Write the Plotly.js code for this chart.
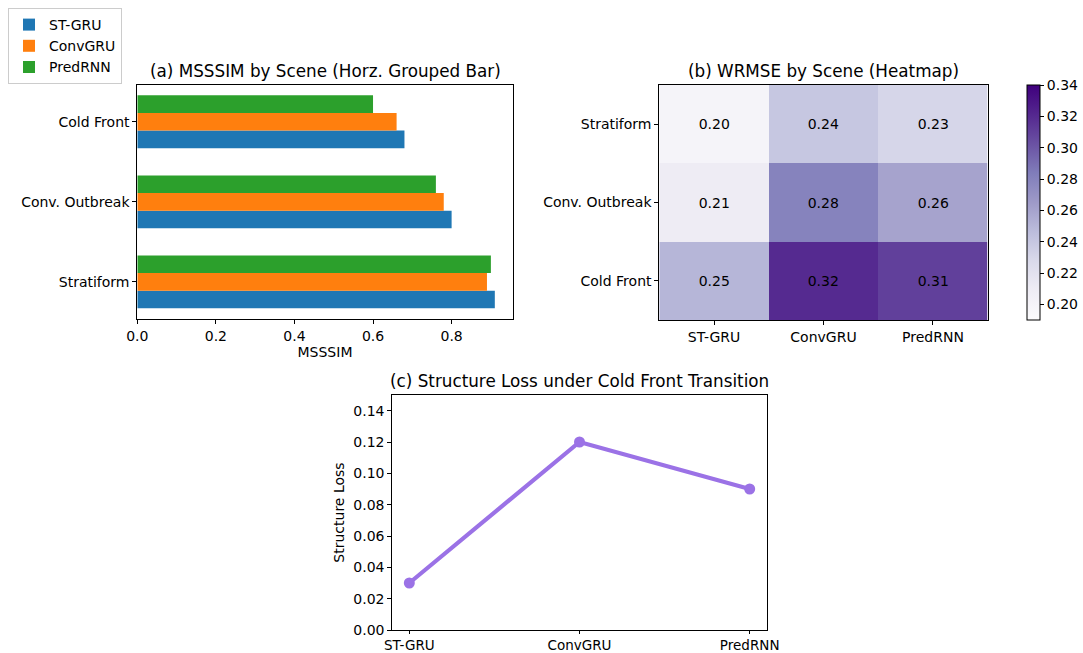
<!DOCTYPE html>
<html>
<head>
<meta charset="utf-8">
<script src="https://cdn.plot.ly/plotly-3.0.1.min.js"></script>
<style>html,body{margin:0;padding:0;background:#fff;}#chart{width:1083px;height:653px;}</style>
</head>
<body>
<div id="chart"></div>
<script>
// ---- data ----
const scenes = ['Stratiform', 'Conv. Outbreak', 'Cold Front'];
const models = ['ST-GRU', 'ConvGRU', 'PredRNN'];
const modelColors = ['#1f77b4', '#ff7f0e', '#2ca02c'];
// MSSSIM per model, ordered like scenes
const msssimSTGRU = [0.91, 0.80, 0.68];
const msssimConvGRU = [0.89, 0.78, 0.66];
const msssimPredRNN = [0.90, 0.76, 0.60];
// WRMSE rows (scenes) x columns (models)
const wrmseStratiform = [0.20, 0.24, 0.23];
const wrmseConvOutbreak = [0.21, 0.28, 0.26];
const wrmseColdFront = [0.25, 0.32, 0.31];
// Structure loss under cold front
const structureLoss = [0.03, 0.12, 0.09];
const cbTicks = [0.20, 0.22, 0.24, 0.26, 0.28, 0.30, 0.32, 0.34];
const lossTicks = [0.00, 0.02, 0.04, 0.06, 0.08, 0.10, 0.12, 0.14];
const msTicks = [0.0, 0.2, 0.4, 0.6, 0.8];

const W = 1083, H = 653;
const px = v => v / W;
const py = v => 1 - v / H;

const font = 'DejaVu Sans, sans-serif';
const purples = [
  [0.0, '#fcfbfd'], [0.125, '#efedf5'], [0.25, '#dadaeb'], [0.375, '#bcbddc'],
  [0.5, '#9e9ac8'], [0.625, '#807dba'], [0.75, '#6a51a3'], [0.875, '#54278f'], [1.0, '#3f007d']
];
const tickSize = 14;

const msData = [msssimSTGRU, msssimConvGRU, msssimPredRNN];
const traces = models.map((m, i) => ({
  type: 'bar', orientation: 'h', name: m,
  x: msData[i], y: scenes,
  marker: {color: modelColors[i], line: {width: 0}},
  xaxis: 'x', yaxis: 'y', hoverinfo: 'x'
}));

traces.push({
  type: 'heatmap', x: models, y: scenes,
  z: [wrmseStratiform, wrmseConvOutbreak, wrmseColdFront],
  zmin: 0.19, zmax: 0.34, colorscale: purples,
  texttemplate: '%{z:.2f}', textfont: {family: font, size: tickSize, color: '#000'},
  xaxis: 'x2', yaxis: 'y2', showlegend: false,
  colorbar: {
    x: px(1026.7), xanchor: 'left', xpad: 0, ypad: 0,
    y: py(202.5), yanchor: 'middle', len: 235, lenmode: 'pixels',
    thickness: 12.6, thicknessmode: 'pixels',
    outlinecolor: '#000', outlinewidth: 1,
    tickvals: cbTicks, ticktext: cbTicks.map(v => v.toFixed(2)),
    ticks: 'outside', ticklen: 4, tickcolor: '#000',
    tickfont: {family: font, size: tickSize, color: '#000'}
  }
});

traces.push({
  type: 'scatter', mode: 'lines+markers', x: models, y: structureLoss,
  line: {color: '#9b72e6', width: 4.2}, marker: {color: '#9b72e6', size: 11},
  xaxis: 'x3', yaxis: 'y3', showlegend: false
});

const axBase = {
  showline: true, linecolor: '#000', linewidth: 1, mirror: true,
  ticks: 'outside', ticklen: 4, tickcolor: '#000', showgrid: false, zeroline: false,
  tickfont: {family: font, size: tickSize, color: '#000'}
};

const titleFont = {family: font, size: 16.8, color: '#000'};
const layout = {
  width: W, height: H,
  margin: {l: 0, r: 0, t: 0, b: 0},
  paper_bgcolor: '#fff', plot_bgcolor: '#fff',
  font: {family: font, color: '#000'},
  barmode: 'group', bargap: 0.34, bargroupgap: 0,
  showlegend: true,
  legend: {
    x: px(8), y: py(8), xanchor: 'left', yanchor: 'top',
    bgcolor: '#fff', bordercolor: '#ccc', borderwidth: 1,
    font: {family: font, size: tickSize, color: '#000'},
    traceorder: 'normal', itemwidth: 30, tracegroupgap: 0
  },
  xaxis: Object.assign({}, axBase, {
    domain: [px(137.3), px(512.7)], anchor: 'y',
    range: [0, 0.9555], tickvals: msTicks, ticktext: msTicks.map(v => v.toFixed(1)),
    title: {text: 'MSSSIM', font: {family: font, size: tickSize, color: '#000'}, standoff: 4}
  }),
  yaxis: Object.assign({}, axBase, {
    domain: [py(319), py(84.7)], anchor: 'x',
    type: 'category', range: [-0.463, 2.463]
  }),
  xaxis2: Object.assign({}, axBase, {
    domain: [px(659.3), px(987.7)], anchor: 'y2',
    type: 'category', range: [-0.5, 2.5]
  }),
  yaxis2: Object.assign({}, axBase, {
    domain: [py(320), py(85)], anchor: 'x2',
    type: 'category', range: [2.5, -0.5]
  }),
  xaxis3: Object.assign({}, axBase, {
    domain: [px(392.3), px(766.7)], anchor: 'y3',
    type: 'category', range: [-0.1, 2.1], ticklen: 3,
    tickfont: {family: font, size: 13.5, color: '#000'}
  }),
  yaxis3: Object.assign({}, axBase, {
    domain: [py(630), py(395)], anchor: 'x3',
    range: [0, 0.15], tickvals: lossTicks, ticktext: lossTicks.map(v => v.toFixed(2)),
    title: {text: 'Structure Loss', font: {family: font, size: tickSize, color: '#000'}, standoff: 5}
  }),
  annotations: [
    {text: '(a) MSSSIM by Scene (Horz. Grouped Bar)', x: px(325), y: py(71), xref: 'paper', yref: 'paper',
     showarrow: false, xanchor: 'center', yanchor: 'middle', font: titleFont},
    {text: '(b) WRMSE by Scene (Heatmap)', x: px(823.5), y: py(71), xref: 'paper', yref: 'paper',
     showarrow: false, xanchor: 'center', yanchor: 'middle', font: titleFont},
    {text: '(c) Structure Loss under Cold Front Transition', x: px(579.5), y: py(381), xref: 'paper', yref: 'paper',
     showarrow: false, xanchor: 'center', yanchor: 'middle', font: titleFont}
  ]
};

Plotly.newPlot('chart', traces, layout, {displayModeBar: false, staticPlot: true});
</script>
</body>
</html>
